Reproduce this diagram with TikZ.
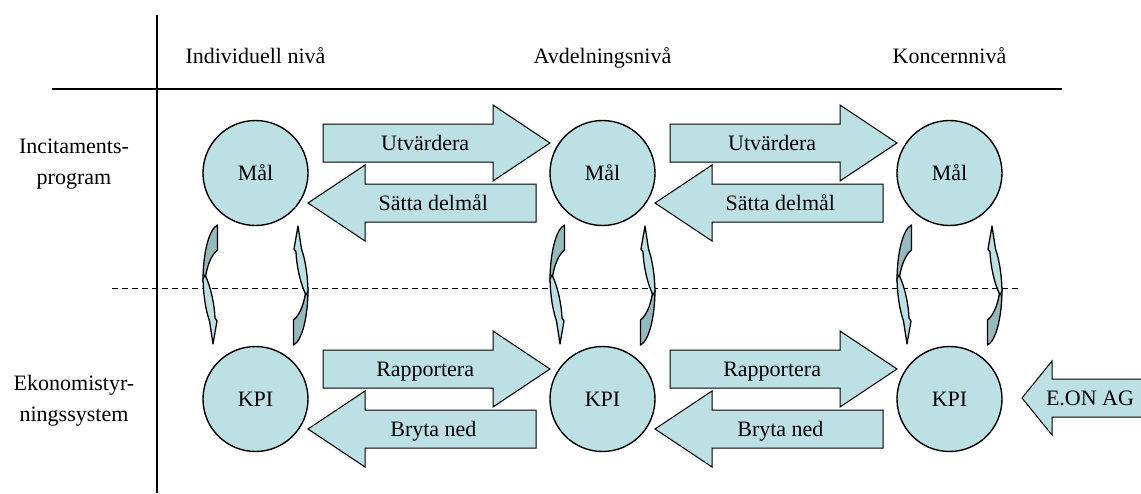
\documentclass[tikz,border=0pt]{standalone}
\usepackage{fontspec}
\setmainfont{Liberation Serif}
\usetikzlibrary{calc}
\definecolor{fillc}{RGB}{188,224,227}
\definecolor{backc}{RGB}{150,185,190}

% right-pointing block arrow: name, tail x, tip x, centre y, text
\newcommand\RBlock[5]{%
  \draw[blk] (#2,{#4-19}) -- ({#3-57},{#4-19}) -- ({#3-57},{#4-38}) -- (#3,#4)
    -- ({#3-57},{#4+38}) -- ({#3-57},{#4+19}) -- (#2,{#4+19}) -- cycle;
  \node[word] (#1) at ({#2+0.45*(#3-#2)},#4) {#5};
}
% left-pointing block arrow: name, tip x, tail x, centre y, text
\newcommand\LBlock[5]{%
  \draw[blk] (#3,{#4-19}) -- ({#2+57},{#4-19}) -- ({#2+57},{#4-38}) -- (#2,#4)
    -- ({#2+57},{#4+38}) -- ({#2+57},{#4+19}) -- (#3,{#4+19}) -- cycle;
  \node[word] (#1) at ({#2+0.55*(#3-#2)},#4) {#5};
}

\begin{document}
\begin{tikzpicture}[x=1pt,y=-1pt,
  word/.style={font=\fontsize{22}{26}\selectfont, inner sep=0pt,
    text height=14.5pt, text depth=0pt},
  rowlabel/.style={font=\fontsize{22}{31}\selectfont, inner sep=0pt, align=center},
  disc/.style={circle, draw=black, line width=1.4pt, fill=fillc,
    minimum size=105pt, inner sep=0pt, font=\fontsize{22}{26}\selectfont,
    text height=14.5pt, text depth=0pt},
  blk/.style={draw=black, line width=1pt, fill=fillc, line join=miter},
  cur/.style={draw=black, line width=1.3pt, line join=round},
  rule/.style={line width=1.6pt},
  bend arrow/.pic={
    % back face on top
    \draw[cur, fill=backc] (14.5,0) -- (14.5,25)
      .. controls (8,30) and (3.5,42) .. (2,56) -- (0,56)
      .. controls (0,28) and (6,4) .. (14.5,0) -- cycle;
    % front face with the head below
    \draw[cur, fill=fillc] (0,54) .. controls (0.5,72) and (3,86) .. (6.5,96)
      -- (10,119) -- (14,96) -- (12,93)
      .. controls (11.5,80) and (8,62) .. (2,50) -- cycle;
  }
]
\useasboundingbox (0,0) rectangle (1141,493);

% table rules
\coordinate (hl) at (52,89);   \coordinate (hr) at (1062,89);
\coordinate (vt) at (157,15);  \coordinate (vb) at (157,493);
\coordinate (dl) at (112,288); \coordinate (dr) at (1020,288);
\draw[rule] (hl) -- (hr);
\draw[rule] (vt) -- (vb);
\draw[line width=0.9pt, dash pattern=on 6pt off 4pt] (dl) -- (dr);

% column headers
\node[word, anchor=base] (h1) at (255.5,63) {Individuell nivå};
\node[word, anchor=base] (h2) at (602.5,63) {Avdelningsnivå};
\node[word, anchor=base] (h3) at (949.5,63) {Koncernnivå};

% row headers
\node[rowlabel] (rowA) at (74,164) {Incitaments-\\program};
\node[rowlabel] (rowB) at (74,401) {Ekonomistyr-\\ningssystem};

% curved arrows between the two rows
\foreach \cx in {255.5,602.5,949.5}{
  \pic at ({\cx-52.5},225) {bend arrow};
  \pic[rotate=180] at ({\cx+52.5},345) {bend arrow};
}

% goals and KPIs
\node[disc] (m1) at (255.5,173) {Mål};
\node[disc] (m2) at (602.5,173) {Mål};
\node[disc] (m3) at (949.5,173) {Mål};
\node[disc] (k1) at (255.5,399) {KPI};
\node[disc] (k2) at (602.5,399) {KPI};
\node[disc] (k3) at (949.5,399) {KPI};

% block arrows
\RBlock{u1}{323}{550}{143}{Utvärdera}
\LBlock{s1}{308}{536}{203}{Sätta delmål}
\RBlock{u2}{670}{897}{143}{Utvärdera}
\LBlock{s2}{655}{883}{203}{Sätta delmål}
\RBlock{p1}{323}{550}{369}{Rapportera}
\LBlock{b1}{308}{536}{429}{Bryta ned}
\RBlock{p2}{670}{897}{369}{Rapportera}
\LBlock{b2}{655}{883}{429}{Bryta ned}

% group input from the right edge
\begin{scope}
  \clip (0,0) rectangle (1141,493);
  \draw[blk] (1160,379) -- (1052,379) -- (1052,361) -- (1022,398) -- (1052,435)
    -- (1052,417) -- (1160,417) -- cycle;
\end{scope}
\node[word] (eon) at (1090,398) {E.ON AG};
\end{tikzpicture}
\end{document}
